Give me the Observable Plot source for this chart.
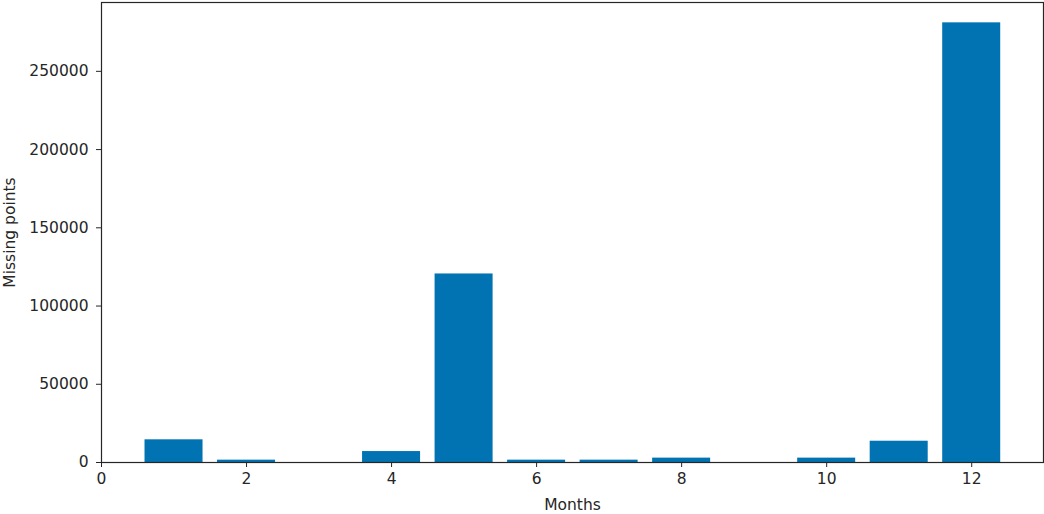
<!DOCTYPE html>
<html>
<head>
<meta charset="utf-8">
<script src="https://cdn.jsdelivr.net/npm/d3@7"></script>
<script src="https://cdn.jsdelivr.net/npm/@observablehq/plot@0.6"></script>
<style>
  html, body { margin: 0; padding: 0; background: #fff; }
  #chart { width: 1044px; height: 514px; }
</style>
</head>
<body>
<div id="chart"></div>
<script>
const months = [1, 2, 3, 4, 5, 6, 7, 8, 9, 10, 11, 12];
const missingPoints = [14500, 1500, 0, 7000, 120500, 1500, 1500, 2800, 0, 2800, 13600, 281000];
const xTicks = [0, 2, 4, 6, 8, 10, 12];
const yTicks = [0, 50000, 100000, 150000, 200000, 250000];

const data = months.map((m, i) => ({ month: m, value: missingPoints[i] }));

const chart = Plot.plot({
  width: 1044,
  height: 514,
  marginLeft: 101,
  marginRight: 1,
  marginTop: 2,
  marginBottom: 52,
  style: { fontFamily: "DejaVu Sans", fontSize: "15.5px", color: "#262626", background: "#fff" },
  x: { domain: [0, 12.99] },
  y: { domain: [0, 294000] },
  marks: [
    Plot.rectY(data, {
      x1: d => d.month - 0.4,
      x2: d => d.month + 0.4,
      y1: 0,
      y2: "value",
      fill: "#0173b2"
    }),
    Plot.frame({ stroke: "#262626", strokeWidth: 1.2 }),
    Plot.axisX({
      ticks: xTicks,
      tickSize: 5,
      tickPadding: 5,
      tickFormat: d => String(d),
      label: "Months",
      labelAnchor: "center",
      labelArrow: "none",
      labelOffset: 47
    }),
    Plot.axisY({
      ticks: yTicks,
      tickSize: 5,
      tickPadding: 8,
      tickFormat: d => String(d),
      label: "Missing points",
      labelAnchor: "center",
      labelArrow: "none",
      labelOffset: 98
    })
  ]
});
document.getElementById("chart").appendChild(chart);
</script>
</body>
</html>
